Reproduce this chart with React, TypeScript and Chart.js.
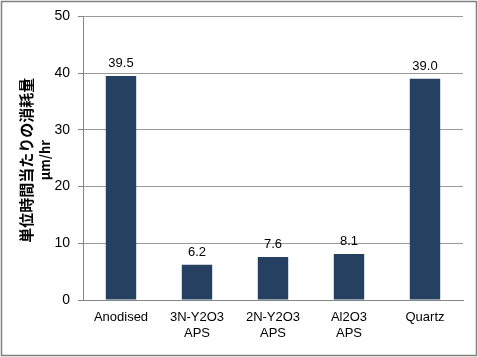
import React, { useEffect, useRef } from "react";
import { Chart, registerables } from "chart.js";

Chart.register(...registerables);

const categories: (string | string[])[] = ["Anodised", ["3N-Y2O3", "APS"], ["2N-Y2O3", "APS"], ["Al2O3", "APS"], "Quartz"];
const values: number[] = [39.5, 6.2, 7.6, 8.1, 39.0];
const yTitle: string[] = ["単位時間当たりの消耗量", "µm/hr"];
const yMin = 0;
const yMax = 50;
const yStep = 10;

const FONT = "'Liberation Sans', 'Noto Sans CJK JP', sans-serif";
const TITLE_FONT = "'Noto Sans CJK JP', 'Liberation Sans', sans-serif";

const labelPlugin = {
  id: "valueLabels",
  afterDatasetsDraw(chart: any) {
    const ctx = chart.ctx;
    const meta = chart.getDatasetMeta(0);
    ctx.save();
    ctx.font = `13px ${FONT}`;
    ctx.fillStyle = "#000000";
    ctx.textAlign = "center";
    ctx.textBaseline = "bottom";
    meta.data.forEach((el: any, i: number) => {
      ctx.fillText(values[i].toFixed(1), el.x, el.y - 6);
    });
    ctx.restore();
  },
};

const titlePlugin = {
  id: "yTitle",
  afterDraw(chart: any) {
    const ctx = chart.ctx;
    const area = chart.chartArea;
    const cy = (area.top + area.bottom) / 2 + 2;
    ctx.save();
    ctx.fillStyle = "#000000";
    ctx.textAlign = "center";
    ctx.textBaseline = "middle";
    const xs = [26, 45];
    const sizes = [15, 13];
    yTitle.forEach((t, i) => {
      ctx.save();
      ctx.translate(xs[i], cy);
      ctx.rotate(-Math.PI / 2);
      ctx.font = `bold ${sizes[i]}px ${TITLE_FONT}`;
      ctx.fillText(t, 0, 0);
      ctx.restore();
    });
    ctx.restore();
  },
};

const borderPlugin = {
  id: "outerBorder",
  beforeDraw(chart: any) {
    const ctx = chart.ctx;
    ctx.save();
    ctx.fillStyle = "#ffffff";
    ctx.fillRect(0, 0, chart.width, chart.height);
    ctx.strokeStyle = "#7f7f7f";
    ctx.lineWidth = 1.5;
    ctx.strokeRect(1.5, 1.5, chart.width - 3, chart.height - 3);
    ctx.restore();
  },
};

export default function App() {
  const ref = useRef<HTMLCanvasElement>(null);
  useEffect(() => {
    document.body.style.margin = "0";
    const chart = new Chart(ref.current!, {
      type: "bar",
      data: {
        labels: categories as any,
        datasets: [
          {
            data: values,
            backgroundColor: "#254061",
            barPercentage: 0.4,
            categoryPercentage: 1,
          },
        ],
      },
      options: {
        animation: false,
        responsive: false,
        layout: { padding: { left: 0, right: 15, top: 16, bottom: 0 } },
        plugins: { legend: { display: false }, tooltip: { enabled: false } },
        scales: {
          x: {
            grid: { display: false, drawTicks: false },
            border: { color: "#868686", width: 1 },
            ticks: { color: "#000000", font: { family: FONT, size: 13 }, padding: 10, maxRotation: 0, autoSkip: false },
            afterFit(scale: any) {
              scale.height = 57;
            },
          },
          y: {
            min: yMin,
            max: yMax,
            ticks: { stepSize: yStep, color: "#000000", font: { family: FONT, size: 14 }, padding: 8 },
            grid: { color: "#9a9a9a", drawTicks: true, tickLength: 5, tickColor: "#868686" },
            border: { color: "#868686", width: 1 },
            title: { display: false },
            afterFit(scale: any) {
              scale.width = 83;
            },
          },
        },
      },
      plugins: [borderPlugin, labelPlugin, titlePlugin],
    });
    return () => chart.destroy();
  }, []);
  return <canvas ref={ref} width={478} height={357} style={{ display: "block" }} />;
}
